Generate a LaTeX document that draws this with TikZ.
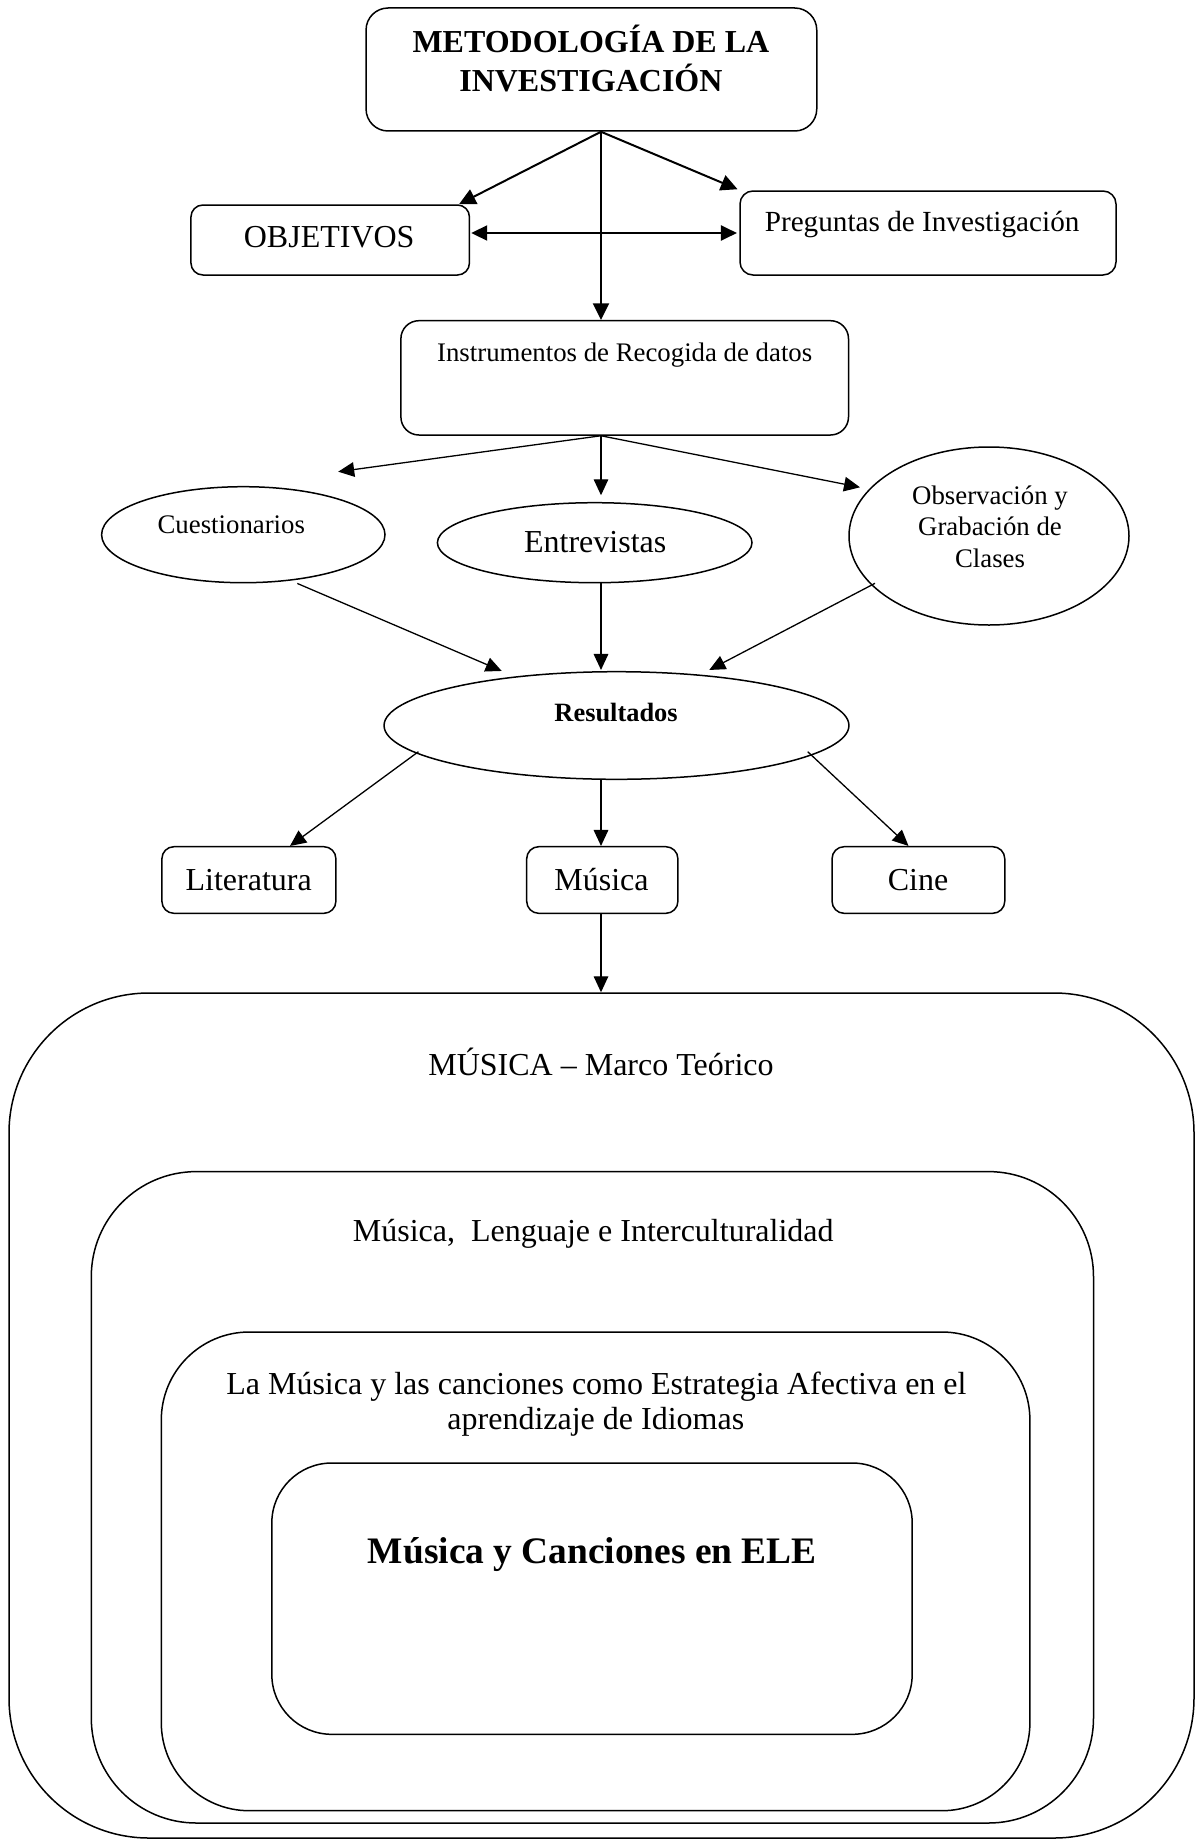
\documentclass[tikz,border=0pt]{standalone}
\usepackage{fontspec}
\setmainfont{Liberation Serif}
\usetikzlibrary{arrows.meta,shapes.geometric,calc}

\begin{document}
\begin{tikzpicture}[x=0.5pt,y=-0.5pt,
  box/.style={draw, rounded corners=#1, line width=0.75pt, inner sep=0pt},
  box/.default=6pt,
  oval/.style={draw, ellipse, line width=0.75pt, inner sep=0pt},
  lbl/.style={anchor=base, inner sep=0pt},
  heavy/.style={-{Triangle[length=8.3pt,width=8pt]}, line width=1pt},
  light/.style={-{Triangle[length=8pt,width=7.3pt]}, line width=0.65pt},
  big/.style={font=\fontsize{16}{19}\selectfont},
  mid/.style={font=\fontsize{13.4}{16}\selectfont},
]
\useasboundingbox (0,0) rectangle (1197,1841);

% ---- upper flow chart: boxes and ovals ----
\node[box=11pt, minimum width=225.35pt, minimum height=61.5pt] (meto) at (591.4,69.5) {};
\node[box, minimum width=139.25pt, minimum height=35pt] (obj) at (330.2,240) {};
\node[box=6.5pt, minimum width=188pt, minimum height=42pt] (preg) at (928,233) {};
\node[box=9pt, minimum width=223.8pt, minimum height=57.15pt] (instr) at (624.7,377.85) {};
\node[oval, minimum width=141.7pt, minimum height=48pt] (cues) at (243.3,534.7) {};
\node[oval, minimum width=157.3pt, minimum height=40pt] (entr) at (594.7,542.7) {};
\node[oval, minimum width=140pt, minimum height=89pt] (obs) at (989,536) {};
\node[oval, minimum width=232.45pt, minimum height=53.8pt] (res) at (616.5,725.5) {};
\node[box, minimum width=87pt, minimum height=33.3pt] (lit) at (248.9,880) {};
\node[box, minimum width=75.6pt, minimum height=33.3pt] (mus) at (602.3,880) {};
\node[box, minimum width=86.35pt, minimum height=33.3pt] (cine) at (918.4,880) {};

% ---- nested theoretical framework ----
\node[box=70pt, minimum width=592.5pt, minimum height=422.5pt] (marco) at (601.5,1415.5) {};
\node[box=52.5pt, minimum width=501.1pt, minimum height=325.7pt] (leng) at (592.4,1497.3) {};
\node[box=44pt, minimum width=434.3pt, minimum height=239.35pt] (estr) at (595.6,1571.35) {};
\node[box=30pt, minimum width=320.2pt, minimum height=135.65pt] (ele) at (592,1598.65) {};

% ---- labels ----
\node[lbl, font=\bfseries\fontsize{16}{19}\selectfont] (meto-a) at (590.9,53) {METODOLOGÍA DE LA};
\node[lbl, font=\bfseries\fontsize{16}{19}\selectfont] (meto-b) at (590.9,91.7) {INVESTIGACIÓN};
\node[lbl, big] (obj-t) at (329.2,247) {OBJETIVOS};
\node[lbl, font=\fontsize{14.6}{17}\selectfont] (preg-t) at (922.1,231) {Preguntas de Investigación};
\node[lbl, mid] (instr-t) at (624.7,361) {Instrumentos de Recogida de datos};
\node[lbl, mid] (cues-t) at (231.3,533.3) {Cuestionarios};
\node[lbl, big] (entr-t) at (595.2,552.7) {Entrevistas};
\node[lbl, mid] (obs-a) at (990,504) {Observación y};
\node[lbl, mid] (obs-b) at (990,535) {Grabación de};
\node[lbl, mid] (obs-c) at (990,567.3) {Clases};
\node[lbl, font=\bfseries\fontsize{13.2}{16}\selectfont] (res-t) at (616.1,721.7) {Resultados};
\node[lbl, big] (lit-t) at (248.7,890) {Literatura};
\node[lbl, big] (mus-t) at (601.5,890) {Música};
\node[lbl, big] (cine-t) at (918.1,890) {Cine};
\node[lbl, big] (marco-t) at (601,1075) {MÚSICA – Marco Teórico};
\node[lbl, big] (leng-t) at (593.2,1241.7) {Música,\ \ Lenguaje e Interculturalidad};
\node[lbl, big] (estr-a) at (596.4,1394) {La Música y las canciones como Estrategia Afectiva en el};
\node[lbl, big] (estr-b) at (595.8,1429.7) {aprendizaje de Idiomas};
\node[lbl, font=\bfseries\fontsize{18.7}{22}\selectfont] (ele-t) at (592.4,1563.6) {Música y Canciones en ELE};

% ---- connector end points ----
\coordinate (mo) at ($(meto.south)+(9.6,0)$);
\coordinate (io) at (instr.south -| mo);
\coordinate (qtip) at (338.2,471.7);

% ---- connectors ----
\draw[heavy] (mo) -- ($(obj.north east)+(-11.2,0)$);
\draw[heavy] (mo) -- ($(preg.north west)+(-1.7,-1)$);
\draw[heavy] (mo) -- (instr.north -| mo);
\draw[heavy, {Triangle[length=8pt,width=7.5pt]}-{Triangle[length=8pt,width=7.5pt]}]
  ($(obj.east |- preg.west)+(1,0)$) -- ($(preg.west)+(-2.3,0)$);

\draw[light] (io) -- (qtip);
\draw[light] (io) -- ($(entr.north -| mo)+(0,-6.7)$);
\draw[light] (io) -- ($(obs.center)+(-129,-48.7)$);

\draw[light] ($(cues.south)+(54,0)$) -- ($(res.north)+(-114.8,0)$);
\draw[light] (entr.south -| mo) -- ($(res.north -| mo)+(0,-1)$);
\draw[light] ($(obs.center)+(-114,47.3)$) -- ($(res.north)+(92.8,-1)$);

\draw[light] ($(res.center)+(-198.1,26.2)$) -- ($(lit.north)+(41.1,0)$);
\draw[light] (res.south -| mo) -- (mus.north -| mo);
\draw[light] ($(res.center)+(191.2,26.2)$) -- ($(cine.north)+(-9.9,0)$);

\draw[light] (mus.south -| mo) -- (marco.north -| mo);
\end{tikzpicture}
\end{document}
